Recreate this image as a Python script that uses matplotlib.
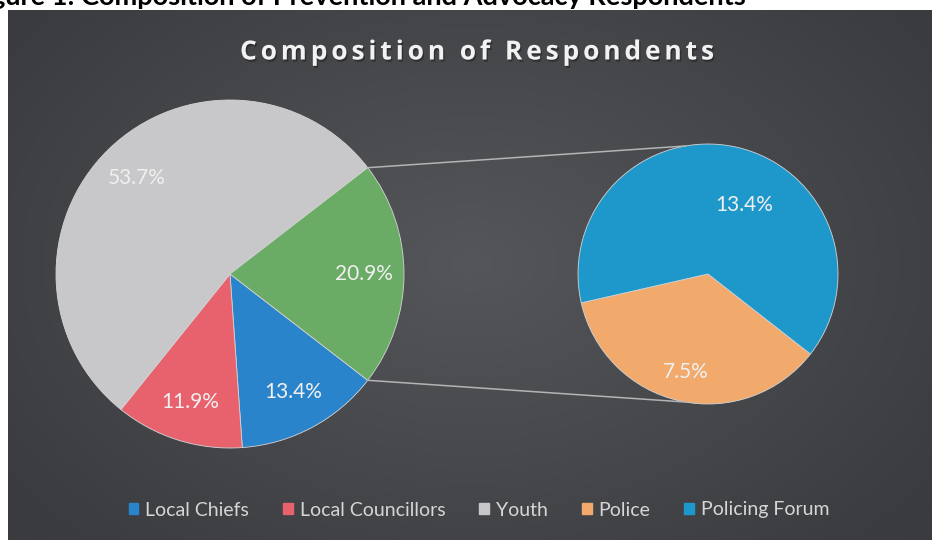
import numpy as np
import matplotlib
matplotlib.use("Agg")
import matplotlib.pyplot as plt
import matplotlib.patheffects as pe
from matplotlib.patches import Patch

# data
main_labels = ["Local Chiefs", "Local Councillors", "Youth", "Other"]
main_values = [13.4, 11.9, 53.7, 20.9]
sub_labels = ["Police", "Policing Forum"]
sub_values = [7.5, 13.4]

main_colors = ["#2a84cc", "#e8626d", "#c8c8ca", "#6aab65"]
sub_colors = ["#f1a96c", "#1e98ca"]

heading = "Figure 1: Composition of Prevention and Advocacy Respondents"
title = "Composition of Respondents"

plt.rcParams["font.family"] = ["Lato", "DejaVu Sans"]

W, H = 932, 540
fig = plt.figure(figsize=(W / 100, H / 100), dpi=100, facecolor="white")
ax = fig.add_axes([0, 0, 1, 1])
ax.set_xlim(0, W)
ax.set_ylim(0, H)
ax.axis("off")

# dark chart area with soft radial shading
yy, xx = np.mgrid[0:200, 0:340]
d = np.sqrt(((xx - 170) / 170.0) ** 2 + ((yy - 95) / 120.0) ** 2)
d = np.clip(d / 1.25, 0, 1)[..., None]
c_in = np.array([0x55, 0x56, 0x5a]) / 255
c_out = np.array([0x3a, 0x3b, 0x3f]) / 255
grad = c_in * (1 - d) + c_out * d
ax.imshow(grad, extent=(8, W, 0, H - 10), origin="upper", aspect="auto", zorder=0)

# main pie, "Other" slice centred on the right
main_center = (230, 266)
main_r = 174
other_share = main_values[-1] / sum(main_values) * 360
wedges, _ = ax.pie(main_values, colors=main_colors, center=main_center, radius=main_r,
                   startangle=-other_share / 2, counterclock=False,
                   wedgeprops=dict(edgecolor="#d4d4d4", linewidth=0.6))

# secondary pie
sub_center = (708, 266)
sub_r = 130
sub_wedges, _ = ax.pie(sub_values, colors=sub_colors, center=sub_center, radius=sub_r,
                       startangle=-38, counterclock=False,
                       wedgeprops=dict(edgecolor="#d4d4d4", linewidth=0.6))
ax.set_xlim(0, W)
ax.set_ylim(0, H)
ax.set_aspect("equal")

def put_label(w, text, center, r, frac, shift=0):
    ang = np.deg2rad((w.theta1 + w.theta2) / 2 + shift)
    ax.text(center[0] + frac * r * np.cos(ang), center[1] + frac * r * np.sin(ang), text,
            ha="center", va="center", color="#f0f0f0", fontsize=15, zorder=5)

for w, v in zip(wedges, main_values):
    put_label(w, f"{v:.1f}%", main_center, main_r, 0.77)
put_label(sub_wedges[0], f"{sub_values[0]:.1f}%", sub_center, sub_r, 0.77)
put_label(sub_wedges[1], f"{sub_values[1]:.1f}%", sub_center, sub_r, 0.6, shift=-15)

# connector lines between the pies
ow = wedges[-1]
for a_main, a_sub in [(ow.theta2, 100), (ow.theta1, -100)]:
    p1 = (main_center[0] + main_r * np.cos(np.deg2rad(a_main)),
          main_center[1] + main_r * np.sin(np.deg2rad(a_main)))
    p2 = (sub_center[0] + sub_r * np.cos(np.deg2rad(a_sub)),
          sub_center[1] + sub_r * np.sin(np.deg2rad(a_sub)))
    ax.plot([p1[0], p2[0]], [p1[1], p2[1]], color="#b4b4b4", lw=1.1, zorder=1)

# chart title with letter spacing, placed one glyph at a time
renderer = fig.canvas.get_renderer()
tprops = dict(fontsize=19, fontweight="bold", family=["Open Sans", "DejaVu Sans"])

def text_w(s):
    t = ax.text(0, 0, s, **tprops)
    w = t.get_window_extent(renderer).width
    t.remove()
    return w

target_w = 474
plain_w = text_w(title)
track = (target_w - plain_w) / (len(title) - 1)
x0 = 477 - target_w / 2
for i, ch in enumerate(title):
    if ch == " ":
        continue
    left = text_w(title[:i + 1]) - text_w(ch) + i * track
    t = ax.text(x0 + left, H - 52, ch, ha="left", va="center", color="#f2f2f2",
                zorder=5, **tprops)
    t.set_path_effects([pe.SimplePatchShadow(offset=(1, -1.5), shadow_rgbFace="#151515",
                                             alpha=0.45), pe.Normal()])

# report heading, cut off at the top of the scan
ax.text(746, H - 5, heading, ha="right", va="baseline", color="black",
        fontsize=19.5, fontweight="bold", zorder=5)

# legend
handles = [Patch(color=c) for c in main_colors[:3] + sub_colors]
leg = ax.legend(handles, main_labels[:3] + sub_labels, loc="center", ncol=5,
                bbox_to_anchor=(479 / W, 30 / H), frameon=False, fontsize=14,
                handlelength=0.5, handleheight=0.5, handletextpad=0.35,
                columnspacing=1.75, labelcolor="#d6d6d6")

fig.savefig("out.png", dpi=100, facecolor="white")
